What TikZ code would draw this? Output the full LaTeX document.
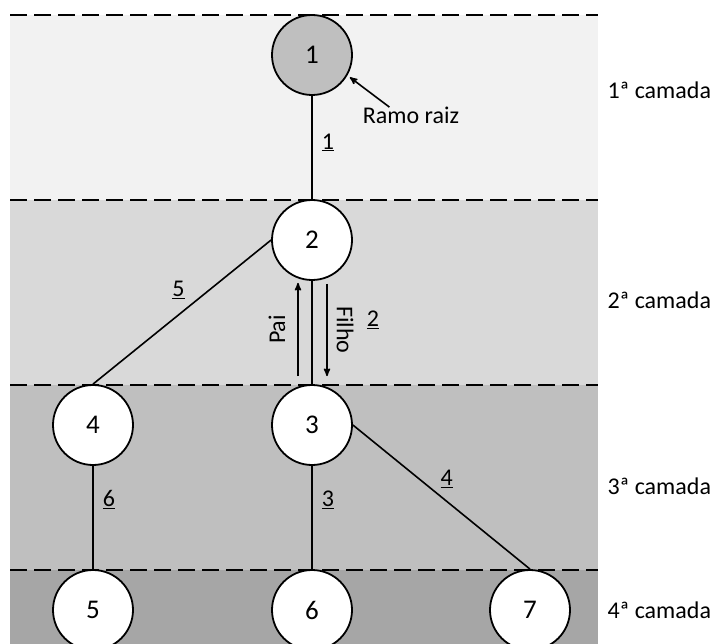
\documentclass[tikz,border=0pt]{standalone}
\usepackage{fontspec}
\setmainfont{Carlito}
\usetikzlibrary{arrows,positioning}

\definecolor{camadaA}{HTML}{F2F2F2}
\definecolor{camadaB}{HTML}{D9D9D9}
\definecolor{camadaC}{HTML}{BFBFBF}
\definecolor{camadaD}{HTML}{A6A6A6}

\begin{document}
\begin{tikzpicture}[x=1pt,y=-1pt,>=stealth',node distance=185pt,
				every node/.style={font=\fontsize{24}{28}\selectfont},
				no/.style={circle,draw,line width=1.8pt,fill=white,minimum size=80pt,inner sep=0pt,
					font=\fontsize{27}{30}\selectfont},
				ramo/.style={line width=1.6pt},
				lab/.style={inner sep=1pt}]
			\useasboundingbox (0,0) rectangle (712,644);
			\clip (0,0) rectangle (712,644);
			% faixas das camadas
			\fill[camadaA] (10,15) rectangle (598,200);
			\fill[camadaB] (10,200) rectangle (598,385);
			\fill[camadaC] (10,385) rectangle (598,570);
			\fill[camadaD] (10,570) rectangle (598,644);
			\foreach \y in {15,200,385,570}
				\draw[dash pattern=on 17pt off 7pt,line width=1.8pt] (10,\y) -- (598,\y);
			\node (c1) [anchor=west] at (604,90)  {1ª camada};
			\node (c2) [anchor=west] at (604,300) {2ª camada};
			\node (c3) [anchor=west] at (604,486) {3ª camada};
			\node (c4) [anchor=west] at (604,610) {4ª camada};
			% arvore
			\node[no,fill=camadaC] (n1) at (312,55) {1};
			\node[no] (n2) [below of=n1] {2};
			\node[no] (n3) [below of=n2] {3};
			\node[no] (n4) [left of=n3,node distance=219pt] {4};
			\node[no] (n6) [below of=n3] {6};
			\node[no] (n5) [left of=n6,node distance=219pt] {5};
			\node[no] (n7) [right of=n6,node distance=218pt] {7};
			\draw[ramo] (n1) -- node[lab,pos=.45,right=8pt] {\underline{1}} (n2);
			\draw[ramo] (n2.west) -- node[lab,pos=.52,above=14pt] {\underline{5}} (n4.north);
			\draw[ramo] (n2) -- node[lab,pos=.38,xshift=61pt] {\underline{2}} (n3);
			\draw[ramo] (n3) -- node[lab,pos=.33,right=8pt] {\underline{3}} (n6);
			\draw[ramo] (n3.east) -- node[lab,pos=.53,above=12pt] {\underline{4}} (n7.north);
			\draw[ramo] (n4) -- node[lab,pos=.33,right=8pt] {\underline{6}} (n5);
			% pai e filho
			\draw[->,ramo] ([xshift=-14pt,yshift=8pt]n3.north) -- node[xshift=-21pt,rotate=90] {Pai} ([xshift=-14pt,yshift=-2pt]n2.south);
			\draw[->,ramo] ([xshift=15pt,yshift=-3pt]n2.south) -- node[xshift=18pt,rotate=-90] {Filho} ([xshift=15pt,yshift=8pt]n3.north);
			% ramo raiz
			\node (raiz) at (411,115) {Ramo raiz};
			\draw[->,ramo,shorten >=3pt] ([xshift=30pt,yshift=-4pt]raiz.north west) -- (n1.-30);
		\end{tikzpicture}
\end{document}
